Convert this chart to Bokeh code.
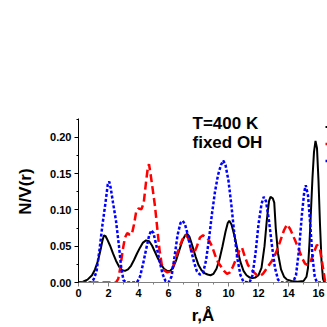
from bokeh.plotting import figure
from bokeh.models import Range1d, Label, Legend, LegendItem, SingleIntervalTicker, PrintfTickFormatter
from bokeh.embed import file_html
from bokeh.resources import INLINE

# --- data ---
black_r = [0.0, 0.3, 0.6, 0.9, 1.1, 1.3, 1.5, 1.6, 1.7, 1.8, 1.9, 2.1, 2.3, 2.5, 2.7, 2.9, 3.1, 3.3, 3.5, 3.7,
           3.9, 4.1, 4.3, 4.5, 4.7, 4.9, 5.1, 5.3, 5.5, 5.7, 5.9, 6.1, 6.3, 6.5, 6.7, 6.9, 7.1, 7.25, 7.4, 7.6,
           7.8, 8.0, 8.2, 8.4, 8.6, 8.8, 9.0, 9.2, 9.4, 9.6, 9.8, 9.95, 10.05, 10.2, 10.4, 10.6, 10.8, 11.0, 11.2, 11.4,
           11.6, 11.8, 12.0, 12.2, 12.4, 12.55, 12.7, 12.8, 12.95, 13.05, 13.15, 13.3, 13.5, 13.7, 13.9, 14.2, 14.6, 15.0, 15.2, 15.3,
           15.4, 15.5, 15.6, 15.7, 15.8, 15.9, 16.0, 16.1, 16.2, 16.3, 16.4]
black_v = [0.000, 0.001, 0.004, 0.010, 0.018, 0.030, 0.048, 0.058, 0.065, 0.064, 0.060, 0.051, 0.040, 0.030, 0.022, 0.017, 0.016, 0.018, 0.023, 0.031,
           0.040, 0.048, 0.055, 0.058, 0.057, 0.051, 0.042, 0.033, 0.025, 0.019, 0.016, 0.016, 0.020, 0.030, 0.043, 0.056, 0.065, 0.067, 0.063, 0.050,
           0.036, 0.024, 0.017, 0.013, 0.011, 0.010, 0.012, 0.019, 0.032, 0.050, 0.070, 0.082, 0.085, 0.080, 0.064, 0.045, 0.028, 0.016, 0.010, 0.007,
           0.006, 0.007, 0.010, 0.020, 0.050, 0.085, 0.112, 0.118, 0.116, 0.110, 0.075, 0.040, 0.018, 0.008, 0.004, 0.002, 0.001, 0.002, 0.008, 0.020,
           0.055, 0.100, 0.145, 0.180, 0.195, 0.185, 0.140, 0.080, 0.030, 0.005, 0.000]

red_r = [0.0, 2.5, 2.65, 2.8, 2.95, 3.1, 3.25, 3.4, 3.55, 3.7, 3.85, 4.0, 4.2, 4.35, 4.5, 4.62, 4.7, 4.8, 4.95, 5.1,
         5.25, 5.4, 5.55, 5.7, 5.9, 6.1, 6.3, 6.5, 6.7, 6.9, 7.1, 7.3, 7.5, 7.7, 7.9, 8.1, 8.3, 8.5, 8.7, 8.9,
         9.1, 9.3, 9.5, 9.7, 9.9, 10.1, 10.3, 10.5, 10.7, 10.9, 11.1, 11.3, 11.5, 11.7, 11.9, 12.1, 12.3, 12.5, 12.7, 12.9,
         13.1, 13.3, 13.5, 13.7, 13.9, 14.1, 14.3, 14.5, 14.7, 14.9, 15.1, 15.3, 15.5, 15.7, 15.9, 16.1, 16.3, 16.45]
red_v = [0.000, 0.000, 0.005, 0.022, 0.045, 0.062, 0.068, 0.066, 0.066, 0.080, 0.098, 0.102, 0.101, 0.110, 0.138, 0.158, 0.163, 0.150, 0.128, 0.105,
         0.075, 0.045, 0.025, 0.017, 0.014, 0.015, 0.022, 0.035, 0.047, 0.058, 0.066, 0.062, 0.045, 0.040, 0.050, 0.062, 0.065, 0.062, 0.058, 0.050,
         0.038, 0.028, 0.022, 0.016, 0.012, 0.014, 0.022, 0.032, 0.043, 0.048, 0.035, 0.024, 0.018, 0.014, 0.010, 0.009, 0.012, 0.018, 0.024, 0.030,
         0.038, 0.048, 0.060, 0.072, 0.080, 0.074, 0.065, 0.055, 0.045, 0.034, 0.026, 0.024, 0.030, 0.042, 0.052, 0.045, 0.020, 0.000]

blue_r = [0.0, 0.8, 1.0, 1.2, 1.4, 1.6, 1.8, 1.95, 2.05, 2.15, 2.3, 2.5, 2.7, 2.85, 3.0, 3.2, 3.9, 4.1, 4.3, 4.5,
          4.7, 4.85, 5.0, 5.2, 5.4, 5.6, 5.8, 6.0, 6.2, 6.4, 6.6, 6.8, 6.95, 7.1, 7.3, 7.5, 7.7, 7.9, 8.1, 8.3,
          8.5, 8.7, 8.9, 9.1, 9.3, 9.5, 9.65, 9.8, 10.0, 10.2, 10.4, 10.6, 10.8, 11.0, 11.4, 11.6, 11.8, 12.0, 12.2, 12.35,
          12.5, 12.7, 12.9, 13.1, 13.3, 13.5, 14.3, 14.5, 14.7, 14.9, 15.05, 15.15, 15.3, 15.45, 15.6, 15.75, 15.9, 16.6]
blue_v = [0.000, 0.000, 0.004, 0.015, 0.045, 0.080, 0.110, 0.135, 0.139, 0.130, 0.110, 0.085, 0.050, 0.020, 0.003, 0.000, 0.000, 0.008, 0.025, 0.045,
          0.064, 0.072, 0.068, 0.050, 0.030, 0.012, 0.002, 0.000, 0.008, 0.035, 0.065, 0.082, 0.085, 0.080, 0.065, 0.045, 0.028, 0.015, 0.011, 0.013,
          0.030, 0.060, 0.095, 0.125, 0.148, 0.162, 0.168, 0.162, 0.140, 0.105, 0.065, 0.032, 0.010, 0.001, 0.000, 0.010, 0.040, 0.080, 0.108, 0.118,
          0.112, 0.085, 0.050, 0.020, 0.004, 0.000, 0.000, 0.010, 0.045, 0.095, 0.125, 0.134, 0.120, 0.080, 0.035, 0.008, 0.000, 0.000]

title_lines = ["T=400 K", "fixed OH"]
x_label = "r,\u00c5"
y_label = "N/V(r)"
y_axis_top = 0.2253

FONT = "Liberation Sans"

p = figure(width=327, height=327, output_backend="svg", toolbar_location=None,
           x_range=Range1d(0, 16.6), y_range=Range1d(0, 0.2507),
           min_border_left=78, min_border_right=0, min_border_top=100, min_border_bottom=39)
p.outline_line_color = None
p.grid.visible = False
p.background_fill_color = "white"
p.border_fill_color = "white"

l_black = p.line(black_r, black_v, line_color="black", line_width=2)
l_red = p.line(red_r, red_v, line_color="#ff0000", line_width=2.5, line_dash="8 4")
l_blue = p.line(blue_r, blue_v, line_color="#0000ff", line_width=2.5, line_dash="3 2")

# axes
p.xaxis.ticker = SingleIntervalTicker(interval=2, num_minor_ticks=2)
p.yaxis.ticker = SingleIntervalTicker(interval=0.05, num_minor_ticks=2)
p.yaxis.formatter = PrintfTickFormatter(format="%.2f")
p.yaxis.bounds = (0, y_axis_top)

for ax in (p.xaxis[0], p.yaxis[0]):
    ax.major_label_text_font = FONT
    ax.major_label_text_font_style = "bold"
    ax.major_label_text_font_size = "11px"
    ax.major_label_text_color = "black"
    ax.axis_label_text_font = FONT
    ax.axis_label_text_font_style = "bold"
    ax.axis_label_text_font_size = "17px"
    ax.axis_label_text_color = "black"
    ax.major_tick_in = 0
    ax.minor_tick_in = 0
    ax.major_tick_out = 4
    ax.minor_tick_out = 2

p.xaxis.axis_label = x_label
p.yaxis.axis_label = y_label
p.xaxis.axis_line_color = "#808080"
p.xaxis.major_tick_line_color = "#808080"
p.xaxis.minor_tick_line_color = "#808080"
p.xaxis.major_label_standoff = 2
p.xaxis.axis_label_standoff = 6
p.yaxis.axis_line_color = "black"
p.yaxis.major_tick_line_color = "black"
p.yaxis.minor_tick_line_color = "black"
p.yaxis.major_label_standoff = 3
p.yaxis.axis_label_standoff = 12

# annotation text
p.add_layout(Label(x=7.6, y=0.2195, text=title_lines[0], text_font=FONT, text_font_style="bold",
                   text_font_size="17px", text_color="black", text_baseline="alphabetic"))
p.add_layout(Label(x=7.6, y=0.1935, text=title_lines[1], text_font=FONT, text_font_style="bold",
                   text_font_size="17px", text_color="black", text_baseline="alphabetic"))

# legend (clipped at the right edge like the reference)
legend = Legend(items=[LegendItem(label=" ", renderers=[l_black]),
                       LegendItem(label=" ", renderers=[l_red]),
                       LegendItem(label=" ", renderers=[l_blue])],
                location=(247, 113), border_line_color=None, background_fill_alpha=0,
                glyph_width=20, glyph_height=17, spacing=0, padding=0, margin=0,
                label_text_font_size="10px", label_standoff=2)
p.add_layout(legend)

open("out.html", "w").write(file_html(p, INLINE))
